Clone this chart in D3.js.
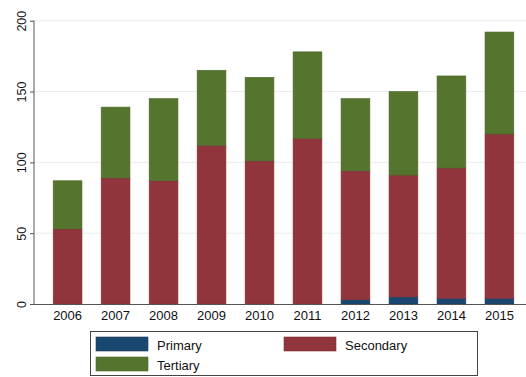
<!DOCTYPE html>
<html>
<head>
<meta charset="utf-8">
<script src="https://cdn.jsdelivr.net/npm/d3@7"></script>
<style>
  body { margin: 0; background: #fff; }
  text { font-family: "Liberation Sans", Arial, sans-serif; fill: #111; }
</style>
</head>
<body>
<svg id="chart" width="526" height="377"></svg>
<script>
var years = ["2006", "2007", "2008", "2009", "2010", "2011", "2012", "2013", "2014", "2015"];
var primary = [0, 0, 0, 0, 0, 0, 3, 5, 4, 4];
var secondary = [53, 89, 87, 112, 101, 117, 91, 86, 92, 116];
var tertiary = [34, 50, 58, 53, 59, 61, 51, 59, 65, 72];
var seriesNames = ["Primary", "Secondary", "Tertiary"];
var seriesColors = ["#1a476f", "#90353b", "#55752f"];
var yTicks = [0, 50, 100, 150, 200];

var svg = d3.select("svg#chart");
var plotLeft = 34, plotRight = 533, plotTop = 20.7, plotBottom = 304;

var rows = years.map(function (y, i) {
  return { year: y, Primary: primary[i], Secondary: secondary[i], Tertiary: tertiary[i] };
});
var stacked = d3.stack().keys(seriesNames)(rows);

var xScale = d3.scaleBand().domain(years).range([plotLeft, plotRight])
  .paddingInner(0.4).paddingOuter(0.4);
var yScale = d3.scaleLinear().domain([0, 200]).range([plotBottom, plotTop]);

// grid lines
svg.append("g").selectAll("line")
  .data(yTicks.slice(1))
  .enter().append("line")
  .attr("x1", plotLeft).attr("x2", 526)
  .attr("y1", function (d) { return yScale(d); })
  .attr("y2", function (d) { return yScale(d); })
  .style("stroke", "#e6eef0").style("stroke-width", 1);

// bars
svg.append("g").selectAll("g")
  .data(stacked)
  .enter().append("g")
  .style("fill", function (d, i) { return seriesColors[i]; })
  .style("stroke", function (d, i) { return d3.color(seriesColors[i]).darker(0.3); })
  .style("stroke-width", 0.6)
  .selectAll("rect")
  .data(function (d) { return d.filter(function (p) { return p[1] - p[0] > 0; }); })
  .enter().append("rect")
  .attr("x", function (d) { return xScale(d.data.year); })
  .attr("y", function (d) { return yScale(d[1]); })
  .attr("width", xScale.bandwidth())
  .attr("height", function (d) { return yScale(d[0]) - yScale(d[1]); });

// y axis
var yAxis = svg.append("g")
  .attr("transform", "translate(" + plotLeft + ",0)")
  .call(d3.axisLeft(yScale).tickValues(yTicks).tickSize(4));
yAxis.select(".domain").attr("d", "M0," + (plotBottom + 0.5) + "V" + plotTop).style("stroke", "#555");
yAxis.selectAll(".tick line").style("stroke", "#555");
yAxis.selectAll("text")
  .attr("x", 0).attr("dy", 0)
  .attr("transform", "translate(-8,0) rotate(-90)")
  .style("text-anchor", "middle")
  .style("font-size", "12.5px");

// x axis
var xAxis = svg.append("g")
  .attr("transform", "translate(0," + plotBottom + ")")
  .call(d3.axisBottom(xScale).tickSize(0).tickPadding(7));
xAxis.select(".domain").attr("d", "M" + plotLeft + ",0.5H526").style("stroke", "#555");
xAxis.selectAll("text").style("font-size", "13px");

// legend
var legend = svg.append("g");
legend.append("rect")
  .attr("x", 90.5).attr("y", 331.5).attr("width", 387).attr("height", 44)
  .style("fill", "#fff").style("stroke", "#444").style("stroke-width", 1);
var legendPos = [[96, 337], [284, 337], [96, 357]];
seriesNames.forEach(function (name, i) {
  var g = legend.append("g").attr("transform", "translate(" + legendPos[i][0] + "," + legendPos[i][1] + ")");
  g.append("rect").attr("width", 52).attr("height", 14)
    .style("fill", seriesColors[i])
    .style("stroke", d3.color(seriesColors[i]).darker(0.3)).style("stroke-width", 0.6);
  g.append("text").attr("x", 61).attr("y", 12.5).text(name).style("font-size", "13px");
});
</script>
</body>
</html>
